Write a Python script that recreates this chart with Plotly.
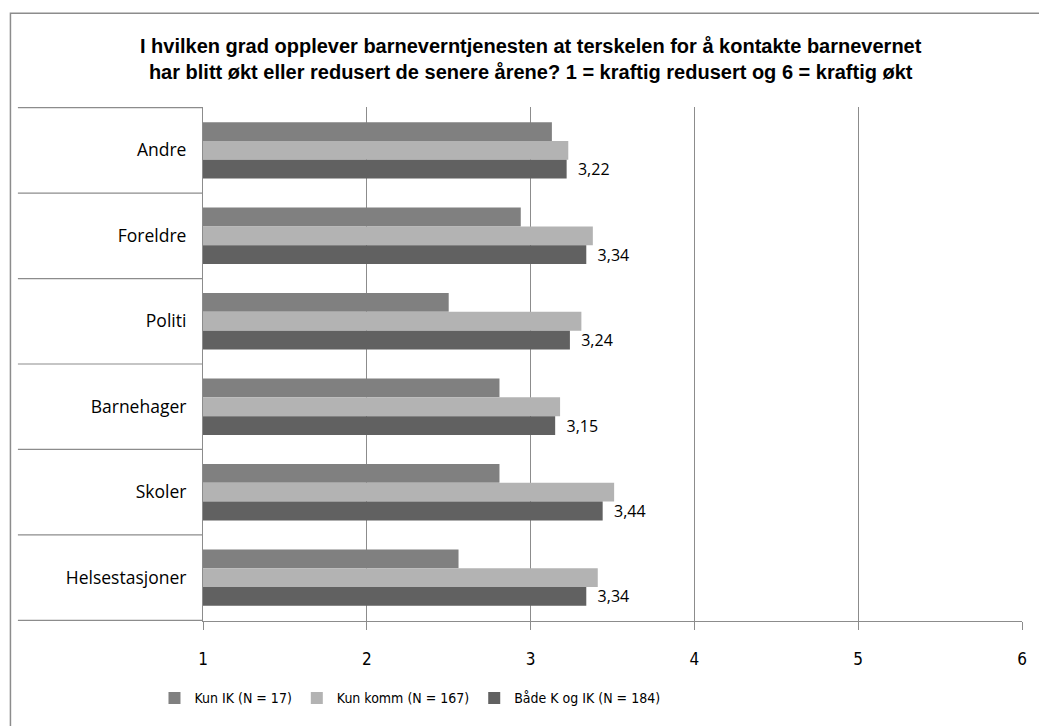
import plotly.graph_objects as go

categories = ["Andre", "Foreldre", "Politi", "Barnehager", "Skoler", "Helsestasjoner"]
series_names = ["Kun IK (N = 17)", "Kun komm (N = 167)", "Både K og IK (N = 184)"]
kun_ik = [3.13, 2.94, 2.50, 2.81, 2.81, 2.56]
kun_komm = [3.23, 3.38, 3.31, 3.18, 3.51, 3.41]
baade = [3.22, 3.34, 3.24, 3.15, 3.44, 3.34]
x_ticks = [1, 2, 3, 4, 5, 6]
title_text = ("<b>I hvilken grad opplever barneverntjenesten at terskelen for å kontakte barnevernet<br>"
              "har blitt økt eller redusert de senere årene? 1 = kraftig redusert og 6 = kraftig økt</b>")

colors = ["#808080", "#b3b3b3", "#616161"]
W, H = 1039, 726
L, R, T, B = 203, 13, 107, 101
pw = W - L - R
ph = H - T - B

NARROW = "DejaVu Sans Condensed, Liberation Sans Narrow, Liberation Sans, sans-serif"
SANS = "Liberation Sans, Arial, sans-serif"
WIDE = "Open Sans, DejaVu Sans, sans-serif"

fig = go.Figure()
for name, vals, col in zip(series_names, [kun_ik, kun_komm, baade], colors):
    show_lbl = vals is baade
    fig.add_trace(go.Bar(
        y=categories, x=[v - 1 for v in vals], base=1, orientation="h", name=name,
        marker=dict(color=col, line=dict(width=0)),
        text=["\u00a0\u00a0" + f"{v:.2f}".replace(".", ",") for v in vals] if show_lbl else None,
        textposition="outside" if show_lbl else "none",
        constraintext="none",
        textfont=dict(family=WIDE, size=16, color="#000000"),
        cliponaxis=False,
        hoverinfo="x+y+name",
    ))

shapes = []
for i in range(len(categories) + 1):
    shapes.append(dict(type="line", xref="paper", yref="y",
                       x0=(17 - L) / pw, x1=0, y0=i - 0.5, y1=i - 0.5,
                       line=dict(color="#8c8c8c", width=1.2)))
shapes.append(dict(type="rect", xref="paper", yref="paper",
                   x0=(9.5 - L) / pw, x1=(W + 20 - L) / pw,
                   y0=-(H + 20 - T - ph) / ph, y1=(H - 12.5 - B) / ph,
                   line=dict(color="#8c8c8c", width=1.5), fillcolor="rgba(0,0,0,0)", layer="below"))

fig.update_layout(
    width=W, height=H,
    margin=dict(l=L, r=R, t=T, b=B, pad=0),
    paper_bgcolor="white", plot_bgcolor="white",
    barmode="group", bargap=0.34, bargroupgap=0,
    showlegend=True,
    legend=dict(orientation="h", x=(411 - L) / pw, xanchor="center", y=-(703 - T - ph) / ph,
                yanchor="middle", font=dict(family=NARROW, size=14, color="#000000"),
                traceorder="normal", itemwidth=30),
    annotations=[dict(text=title_text, xref="paper", yref="paper",
                      x=(533 - L) / pw, y=(H - 59 - B) / ph, xanchor="center", yanchor="middle",
                      showarrow=False, font=dict(family=SANS, size=20, color="#000000"))],
    shapes=shapes,
    separators=", ",
    font=dict(family=NARROW, color="#000000"),
)
fig.update_xaxes(range=[1, 6], tickvals=x_ticks, ticktext=[str(t) for t in x_ticks],
                 showgrid=True, gridcolor="#8c8c8c", gridwidth=1,
                 showline=True, linecolor="#8c8c8c", linewidth=1.2,
                 ticks="outside", ticklen=8, tickcolor="#8c8c8c",
                 tickfont=dict(family=NARROW, size=17, color="#000000"),
                 ticklabelstandoff=14, zeroline=False, fixedrange=True)
fig.update_yaxes(categoryorder="array", categoryarray=categories, autorange="reversed",
                 showline=True, linecolor="#8c8c8c", linewidth=1.2, ticks="",
                 tickfont=dict(family=WIDE, size=17.5, color="#000000"),
                 ticklabelstandoff=12, showgrid=False, fixedrange=True)

fig.write_html("out.html")
